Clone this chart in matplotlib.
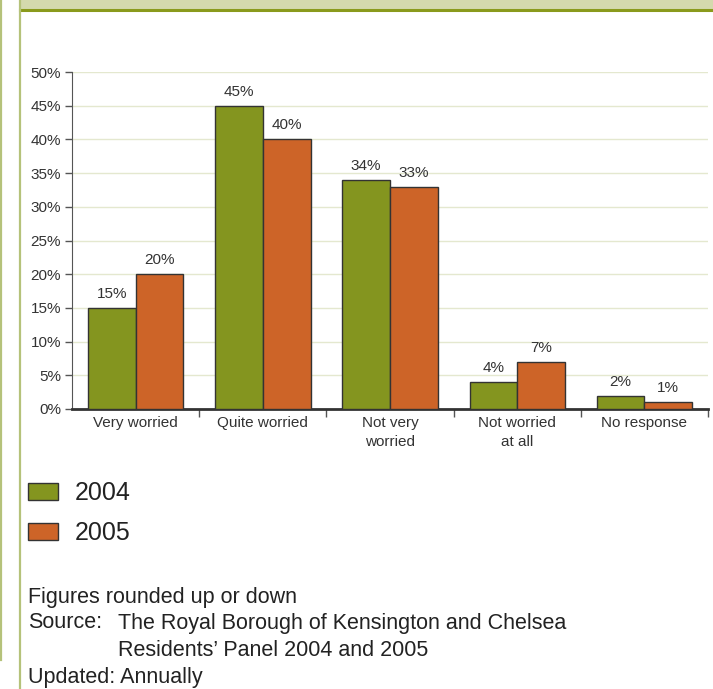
import matplotlib.pyplot as plt
from matplotlib.patches import Rectangle
from matplotlib.lines import Line2D
import numpy as np

plt.rcParams['font.family'] = ['Liberation Sans', 'DejaVu Sans']

categories = ['Very worried', 'Quite worried', 'Not very\nworried', 'Not worried\nat all', 'No response']
vals_2004 = [15, 45, 34, 4, 2]
vals_2005 = [20, 40, 33, 7, 1]
series_names = ['2004', '2005']
yticks = [0, 5, 10, 15, 20, 25, 30, 35, 40, 45, 50]

green = '#84951f'
orange = '#cd6428'
W, H = 713, 689

fig = plt.figure(figsize=(7.13, 6.89), dpi=100)

# page decoration: header band and side rules
fig.patches.append(Rectangle((20 / W, 1 - 10 / H), 1, 10 / H, transform=fig.transFigure,
                             facecolor='#d4d9ad', edgecolor='none'))
fig.add_artist(Line2D([20 / W, 1], [1 - 10 / H, 1 - 10 / H], color='#8a9a1c', lw=2.2))
fig.add_artist(Line2D([20 / W, 20 / W], [0, 1], color='#b5c27a', lw=1.6))
fig.add_artist(Line2D([1 / W, 1 / W], [1 - 660 / H, 1], color='#b5c27a', lw=1.6))

ax = fig.add_axes([72 / W, 1 - 409 / H, 636 / W, 337 / H])
x = np.arange(len(categories))
bw = 0.375
b1 = ax.bar(x - bw / 2, vals_2004, bw, color=green, edgecolor='#333333', linewidth=1, zorder=3)
b2 = ax.bar(x + bw / 2, vals_2005, bw, color=orange, edgecolor='#333333', linewidth=1, zorder=3)
for bars, vals in ((b1, vals_2004), (b2, vals_2005)):
    for r, v in zip(bars, vals):
        ax.annotate(f'{v}%', (r.get_x() + r.get_width() / 2, v), xytext=(0, 5),
                    textcoords='offset points', ha='center', va='bottom',
                    fontsize=11, color='#333333')

ax.set_xlim(-0.5, len(categories) - 0.5)
ax.set_ylim(0, 50)
ax.set_yticks(yticks)
ax.set_yticklabels([f'{t}%' for t in yticks])
ax.yaxis.grid(True, color='#e4e8cf', lw=1, zorder=0)
ax.set_xticks(x)
ax.set_xticklabels(categories, fontsize=11, color='#333333', linespacing=1.45)
ax.set_xticks(np.arange(0.5, len(categories)), minor=True)
ax.tick_params(axis='x', which='major', length=0, pad=5)
ax.tick_params(axis='x', which='minor', length=6, width=1, color='#555555', direction='out')
ax.tick_params(axis='y', length=5, width=1, color='#555555', labelsize=11, labelcolor='#333333', pad=3)
for s in ('top', 'right'):
    ax.spines[s].set_visible(False)
ax.spines['left'].set_color('#555555')
ax.spines['bottom'].set_color('#333333')
ax.spines['bottom'].set_linewidth(2)

leg = fig.legend([b1, b2], series_names, loc='upper left',
                 bbox_to_anchor=(28 / W, 1 - 481 / H), frameon=False, fontsize=18,
                 borderpad=0, borderaxespad=0,
                 handlelength=1.2, handleheight=0.7, handletextpad=0.68, labelspacing=0.64)
for t in leg.get_texts():
    t.set_color('#222222')

fs = 15.5
tc = '#222222'
fig.text(28 / W, 1 - 597 / H, 'Figures rounded up or down', fontsize=fs, color=tc, va='center')
fig.text(28 / W, 1 - 623 / H, 'Source:', fontsize=fs, color=tc, va='center')
fig.text(118 / W, 1 - 623 / H, 'The Royal Borough of Kensington and Chelsea', fontsize=fs, color=tc, va='center')
fig.text(118 / W, 1 - 650 / H, 'Residents\u2019 Panel 2004 and 2005', fontsize=fs, color=tc, va='center')
fig.text(28 / W, 1 - 677 / H, 'Updated: Annually', fontsize=fs, color=tc, va='center')

fig.savefig('out.png', dpi=100)
